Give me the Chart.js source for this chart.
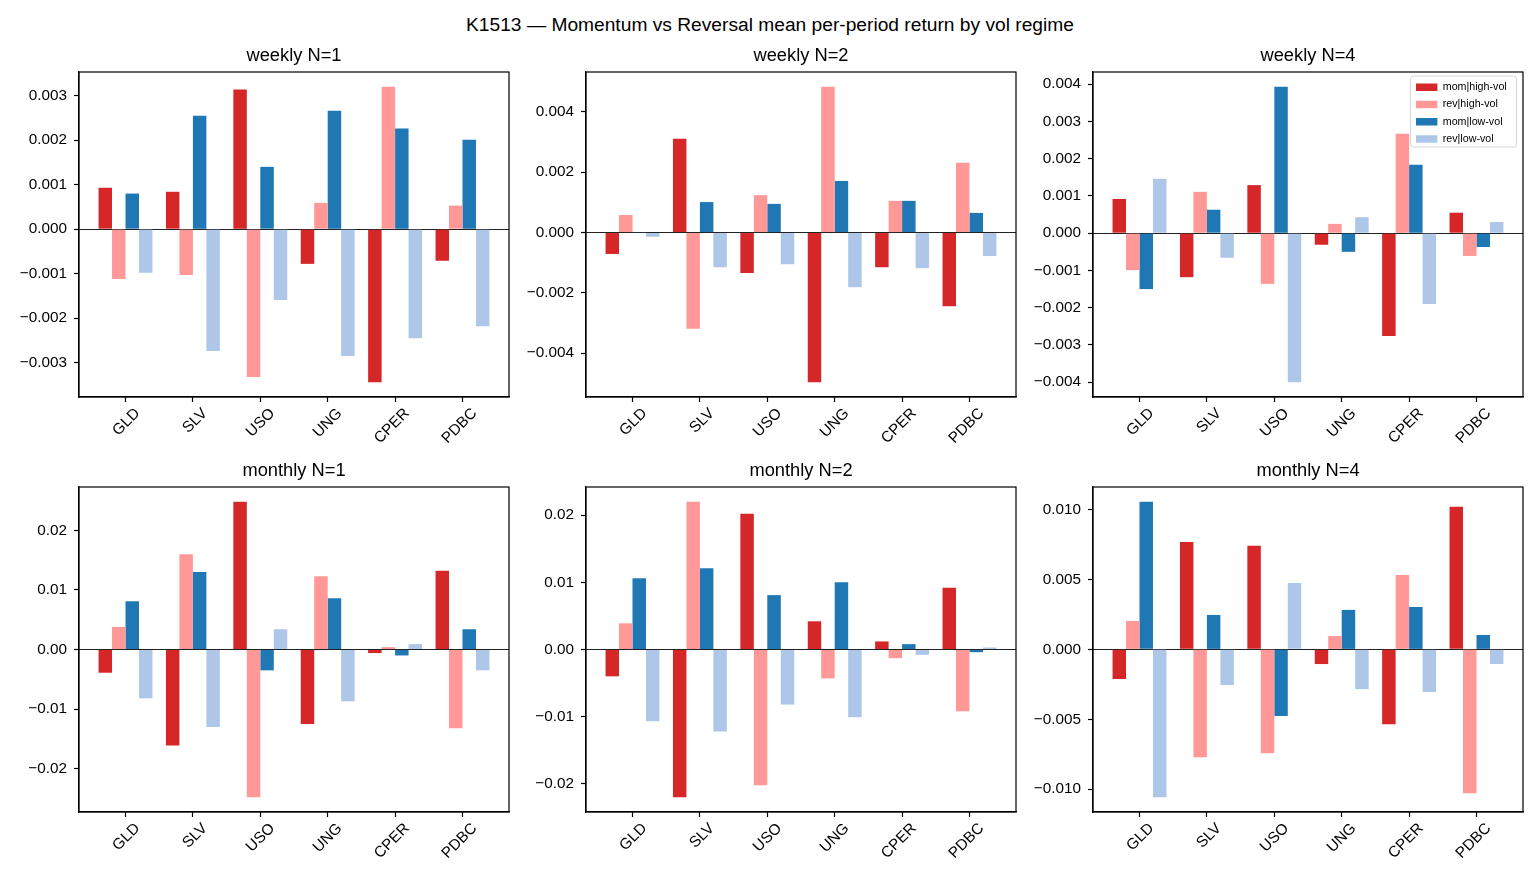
<!DOCTYPE html>
<html><head><meta charset="utf-8">
<script src="https://cdn.jsdelivr.net/npm/chart.js@4.4.1/dist/chart.umd.min.js"></script>
<style>
html,body{margin:0;padding:0;background:#fff;}
#fig{position:relative;width:1540px;height:880px;overflow:hidden;background:#fff;}
#suptitle{position:absolute;left:0;top:14px;width:1540px;text-align:center;font-family:"Liberation Sans",Arial,sans-serif;font-size:19.2px;line-height:22px;color:#000;}
canvas{position:absolute;}
</style></head><body>
<div id="fig"><div id="suptitle">K1513 — Momentum vs Reversal mean per-period return by vol regime</div></div>
<script>
// ---------- data ----------
const categories = ['GLD', 'SLV', 'USO', 'UNG', 'CPER', 'PDBC'];
const seriesNames = ['mom|high-vol', 'rev|high-vol', 'mom|low-vol', 'rev|low-vol'];
const seriesColors = ['#d62728', '#ff9896', '#1f77b4', '#aec7e8'];

// weekly N=1
const weeklyN1_momHigh = [0.00093, 0.00084, 0.00314, -0.00078, -0.00344, -0.00071];
const weeklyN1_revHigh = [-0.00112, -0.00103, -0.00332, 0.00059, 0.00320, 0.00053];
const weeklyN1_momLow  = [0.00080, 0.00255, 0.00140, 0.00266, 0.00226, 0.00201];
const weeklyN1_revLow  = [-0.00098, -0.00274, -0.00159, -0.00285, -0.00245, -0.00218];
const weeklyN1_ticks = [-0.003, -0.002, -0.001, 0, 0.001, 0.002, 0.003];

// weekly N=2
const weeklyN2_momHigh = [-0.00071, 0.00311, -0.00134, -0.00496, -0.00115, -0.00244];
const weeklyN2_revHigh = [0.00058, -0.00319, 0.00124, 0.00483, 0.00105, 0.00231];
const weeklyN2_momLow  = [0.00001, 0.00101, 0.00095, 0.00171, 0.00105, 0.00065];
const weeklyN2_revLow  = [-0.00014, -0.00115, -0.00105, -0.00181, -0.00118, -0.00078];
const weeklyN2_ticks = [-0.004, -0.002, 0, 0.002, 0.004];

// weekly N=4
const weeklyN4_momHigh = [0.00092, -0.00118, 0.00129, -0.00031, -0.00276, 0.00055];
const weeklyN4_revHigh = [-0.00099, 0.00111, -0.00136, 0.00025, 0.00267, -0.00061];
const weeklyN4_momLow  = [-0.00150, 0.00063, 0.00393, -0.00050, 0.00184, -0.00037];
const weeklyN4_revLow  = [0.00146, -0.00066, -0.00400, 0.00043, -0.00190, 0.00030];
const weeklyN4_ticks = [-0.004, -0.003, -0.002, -0.001, 0, 0.001, 0.002, 0.003, 0.004];

// monthly N=1
const monthlyN1_momHigh = [-0.0039, -0.0161, 0.0248, -0.0125, -0.0006, 0.0132];
const monthlyN1_revHigh = [0.0038, 0.0160, -0.0248, 0.0123, 0.0004, -0.0132];
const monthlyN1_momLow  = [0.0081, 0.0130, -0.0035, 0.0086, -0.0010, 0.0034];
const monthlyN1_revLow  = [-0.0082, -0.0130, 0.0034, -0.0087, 0.0009, -0.0035];
const monthlyN1_ticks = [-0.02, -0.01, 0, 0.01, 0.02];

// monthly N=2
const monthlyN2_momHigh = [-0.0040, -0.0220, 0.0202, 0.0042, 0.0012, 0.0092];
const monthlyN2_revHigh = [0.0039, 0.0220, -0.0202, -0.0043, -0.0013, -0.0092];
const monthlyN2_momLow  = [0.0106, 0.0121, 0.0081, 0.0100, 0.0008, -0.0004];
const monthlyN2_revLow  = [-0.0107, -0.0122, -0.0082, -0.0101, -0.0008, 0.0003];
const monthlyN2_ticks = [-0.02, -0.01, 0, 0.01, 0.02];

// monthly N=4
const monthlyN4_momHigh = [-0.00212, 0.00768, 0.00740, -0.00105, -0.00535, 0.01019];
const monthlyN4_revHigh = [0.00203, -0.00771, -0.00742, 0.00095, 0.00532, -0.01029];
const monthlyN4_momLow  = [0.01055, 0.00246, -0.00477, 0.00282, 0.00303, 0.00103];
const monthlyN4_revLow  = [-0.01057, -0.00255, 0.00475, -0.00284, -0.00305, -0.00105];
const monthlyN4_ticks = [-0.010, -0.005, 0, 0.005, 0.010];

// ---------- layout ----------
const AW = 430, AH = 325;     // axes box size
const YW = 78, TH = 40, XH = 70, RP = 14;
const CW = YW + AW + RP, CH = TH + AH + XH;
const colLeft = [79, 586, 1093];
const rowTop = [72, 487];

Chart.defaults.font.family = '"Liberation Sans", Arial, sans-serif';
Chart.defaults.color = '#000';

const panels = [
  {title: 'weekly N=1', series: [weeklyN1_momHigh, weeklyN1_revHigh, weeklyN1_momLow, weeklyN1_revLow], ticks: weeklyN1_ticks, dec: 3, c: 0, r: 0},
  {title: 'weekly N=2', series: [weeklyN2_momHigh, weeklyN2_revHigh, weeklyN2_momLow, weeklyN2_revLow], ticks: weeklyN2_ticks, dec: 3, c: 1, r: 0},
  {title: 'weekly N=4', series: [weeklyN4_momHigh, weeklyN4_revHigh, weeklyN4_momLow, weeklyN4_revLow], ticks: weeklyN4_ticks, dec: 3, c: 2, r: 0, legend: true},
  {title: 'monthly N=1', series: [monthlyN1_momHigh, monthlyN1_revHigh, monthlyN1_momLow, monthlyN1_revLow], ticks: monthlyN1_ticks, dec: 2, c: 0, r: 1},
  {title: 'monthly N=2', series: [monthlyN2_momHigh, monthlyN2_revHigh, monthlyN2_momLow, monthlyN2_revLow], ticks: monthlyN2_ticks, dec: 2, c: 1, r: 1},
  {title: 'monthly N=4', series: [monthlyN4_momHigh, monthlyN4_revHigh, monthlyN4_momLow, monthlyN4_revLow], ticks: monthlyN4_ticks, dec: 3, c: 2, r: 1},
];

function fmt(v, d) {
  const s = Math.abs(v).toFixed(d);
  return (v < -1e-12 ? '\u2212' : '') + s;
}

const framePlugin = {
  id: 'frame',
  afterDraw(chart) {
    const ca = chart.chartArea, ctx = chart.ctx;
    ctx.save();
    ctx.strokeStyle = '#000';
    ctx.lineWidth = 1.2;
    ctx.strokeRect(ca.left, ca.top, ca.right - ca.left, ca.bottom - ca.top);
    ctx.restore();
  }
};

const legendPlace = {
  id: 'legendPlace',
  afterLayout(chart) {
    const lg = chart.legend;
    if (!lg || !chart.options.plugins.legend.display) return;
    const ca = chart.chartArea;
    lg.left = ca.right - 113.5;
    lg.top = ca.top + 3.5;
  },
  beforeDraw(chart) {
    if (!chart.options.plugins.legend.display) return;
    const ca = chart.chartArea, ctx = chart.ctx;
    const x = ca.right - 112.5, y = ca.top + 4, w = 106, h = 71, r = 3;
    ctx.save();
    ctx.beginPath();
    ctx.moveTo(x + r, y);
    ctx.arcTo(x + w, y, x + w, y + h, r);
    ctx.arcTo(x + w, y + h, x, y + h, r);
    ctx.arcTo(x, y + h, x, y, r);
    ctx.arcTo(x, y, x + w, y, r);
    ctx.closePath();
    ctx.fillStyle = 'rgba(255,255,255,0.8)';
    ctx.fill();
    ctx.strokeStyle = '#d6d6d6';
    ctx.lineWidth = 1;
    ctx.stroke();
    ctx.restore();
  }
};

const fig = document.getElementById('fig');

panels.forEach(p => {
  const cv = document.createElement('canvas');
  cv.width = CW; cv.height = CH;
  cv.style.left = (colLeft[p.c] - YW) + 'px';
  cv.style.top = (rowTop[p.r] - TH) + 'px';
  cv.style.width = CW + 'px'; cv.style.height = CH + 'px';
  fig.appendChild(cv);

  const all = p.series.flat().concat([0]);
  const dmin = Math.min(...all), dmax = Math.max(...all);
  const pad = 0.05 * (dmax - dmin);

  new Chart(cv, {
    type: 'bar',
    data: {
      datasets: p.series.map((arr, k) => ({
        label: seriesNames[k],
        backgroundColor: seriesColors[k],
        borderWidth: 0,
        categoryPercentage: 0.8,
        barPercentage: 1.0,
        data: arr.map((v, i) => ({x: i, y: v}))
      }))
    },
    options: {
      responsive: false,
      animation: false,
      devicePixelRatio: 1,
      layout: {padding: {left: 0, right: RP, top: 0, bottom: 0}},
      plugins: {
        title: {
          display: true, text: p.title, fullSize: false, color: '#000',
          font: {size: 18.3, weight: 'normal', lineHeight: 1.2},
          padding: {top: 13, bottom: TH - 13 - 18.3 * 1.2}
        },
        legend: p.legend ? {
          display: true, position: 'chartArea', align: 'start',
          labels: {boxWidth: 21.4, boxHeight: 7.5, padding: 6.5, color: '#000', font: {size: 10.7}}
        } : {display: false},
        tooltip: {enabled: false}
      },
      scales: {
        x: {
          type: 'linear', min: -0.69, max: 5.69, offset: false,
          afterBuildTicks: s => { s.ticks = categories.map((c, i) => ({value: i})); },
          afterFit: s => { s.height = XH; s.paddingLeft = 0; s.paddingRight = 0; },
          ticks: {
            callback: v => categories[v], minRotation: 45, maxRotation: 45, autoSkip: false,
            labelOffset: 12, padding: 2.5, color: '#000', font: {size: 15.3}
          },
          grid: {display: true, offset: false, drawOnChartArea: false, drawTicks: true, tickLength: 5, tickColor: '#000', tickWidth: 1.2},
          border: {display: true, color: '#000', width: 1.2}
        },
        y: {
          type: 'linear', min: dmin - pad, max: dmax + pad,
          afterBuildTicks: s => { s.ticks = p.ticks.map(v => ({value: v})); },
          afterFit: s => { s.width = YW; s.paddingTop = 0; s.paddingBottom = 0; },
          ticks: {callback: v => fmt(v, p.dec), padding: 7, color: '#000', font: {size: 15.3}, autoSkip: false},
          grid: {
            offset: false,
            color: c => (c.tick && Math.abs(c.tick.value) < 1e-12) ? '#222' : 'rgba(0,0,0,0)',
            lineWidth: 1, tickColor: '#000', tickLength: 5, tickWidth: 1.2
          },
          border: {display: true, color: '#000', width: 1.2}
        }
      }
    },
    plugins: [framePlugin, legendPlace]
  });
});
</script>
</body></html>
